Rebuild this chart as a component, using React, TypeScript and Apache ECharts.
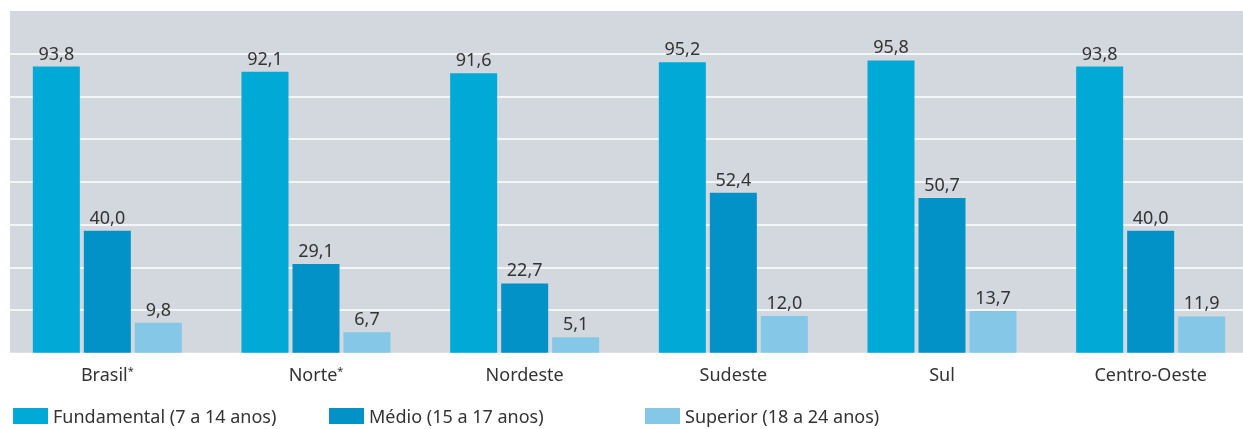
import React, { useEffect, useRef } from "react";
import * as echarts from "echarts";

const categories = ["Brasil*", "Norte*", "Nordeste", "Sudeste", "Sul", "Centro-Oeste"];
const seriesNames = ["Fundamental (7 a 14 anos)", "Médio (15 a 17 anos)", "Superior (18 a 24 anos)"];
const fundamental = [93.8, 92.1, 91.6, 95.2, 95.8, 93.8];
const medio = [40.0, 29.1, 22.7, 52.4, 50.7, 40.0];
const superior = [9.8, 6.7, 5.1, 12.0, 13.7, 11.9];
const colors = ["#00A9D6", "#0392C8", "#84C7E7"];

const FONT = "'Noto Sans', sans-serif";

export default function App() {
  const ref = useRef<HTMLDivElement>(null);
  useEffect(() => {
    if (!ref.current) return;
    const chart = echarts.init(ref.current, undefined, { renderer: "svg" });
    const fmt = (p: any) => Number(p.value).toFixed(1).replace(".", ",");
    const mk = (name: string, data: number[], color: string) => ({
      name,
      type: "bar",
      data,
      barWidth: 47,
      barGap: "8.5%",
      itemStyle: { color },
      label: {
        show: true,
        position: "top",
        distance: 5,
        formatter: fmt,
        color: "#333",
        fontSize: 18,
        fontFamily: FONT,
      },
    });
    const legendX = [13, 329, 645];
    chart.setOption({
      animation: false,
      textStyle: { fontFamily: FONT },
      graphic: [
        {
          type: "rect",
          z: -10,
          shape: { x: 10, y: 11, width: 1233, height: 341.7 },
          style: { fill: "#D3D8DF" },
        },
      ],
      grid: {
        left: 3,
        width: 1252,
        top: 11,
        bottom: 76.3,
        containLabel: false,
        outerBoundsMode: "none",
      },
      legend: seriesNames.map((n, i) => ({
        data: [n],
        left: legendX[i],
        top: 405,
        itemWidth: 35,
        itemHeight: 16,
        icon: "rect",
        padding: [2, 5, 2, 0],
        textStyle: { fontSize: 18, color: "#333", fontFamily: FONT },
      })),
      xAxis: {
        type: "category",
        data: categories,
        axisLine: { show: false },
        axisTick: { show: false },
        axisLabel: {
          margin: 12,
          fontSize: 18,
          color: "#333",
          fontFamily: FONT,
          formatter: (v: string) => (v.endsWith("*") ? v.slice(0, -1) + "{s|*}" : v),
          rich: { s: { fontSize: 11, color: "#333", verticalAlign: "top", padding: [0, 0, 6, 0] } },
        },
      },
      yAxis: {
        type: "value",
        min: 0,
        max: 112,
        interval: 14,
        axisLabel: { show: false },
        axisLine: { show: false },
        axisTick: { show: false },
        splitLine: {
          show: true,
          showMinLine: false,
          showMaxLine: false,
          lineStyle: { color: "#FFFFFF", width: 1.5 },
        },
      },
      series: [
        mk(seriesNames[0], fundamental, colors[0]),
        mk(seriesNames[1], medio, colors[1]),
        mk(seriesNames[2], superior, colors[2]),
      ],
    });
    return () => chart.dispose();
  }, []);
  return (
    <div
      ref={ref}
      style={{ position: "fixed", left: 0, top: 0, width: 1243, height: 429 }}
    />
  );
}
